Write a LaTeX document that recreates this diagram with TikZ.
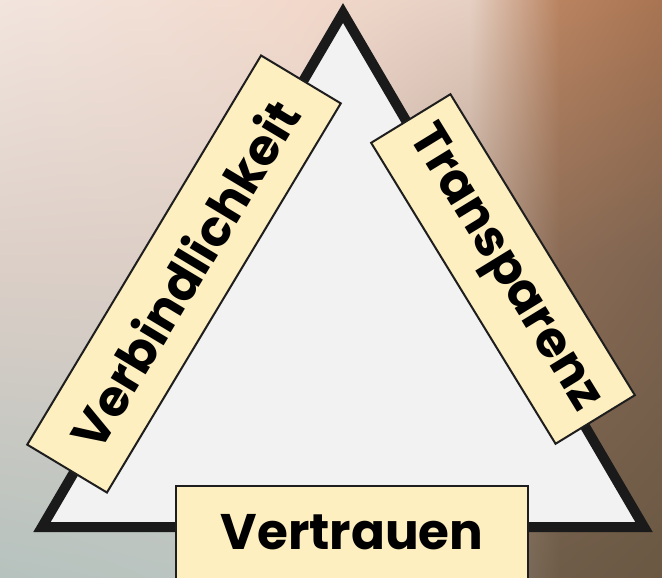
\documentclass[tikz,border=0pt]{standalone}
\usepackage{fontspec}
\setmainfont{Poppins}
\usetikzlibrary{shadings}
\definecolor{boxfill}{HTML}{FEEFC0}
\definecolor{boxline}{HTML}{1E1E1E}
\definecolor{trifill}{HTML}{F2F2F2}
\definecolor{triline}{HTML}{1A1A1A}
\definecolor{tA}{HTML}{F2E5DE}
\definecolor{tB}{HTML}{F2D8CB}
\definecolor{tC}{HTML}{E6D0C3}
\definecolor{tD}{HTML}{B98360}
\definecolor{tE}{HTML}{A87452}
\definecolor{mA}{HTML}{DCCFC7}
\definecolor{mB}{HTML}{DDCFC6}
\definecolor{mC}{HTML}{B9A190}
\definecolor{mD}{HTML}{8A6B55}
\definecolor{mE}{HTML}{7E6450}
\definecolor{bA}{HTML}{B6C2BE}
\definecolor{bB}{HTML}{BDC6C1}
\definecolor{bC}{HTML}{8C8070}
\definecolor{bD}{HTML}{6E5C48}
\definecolor{bE}{HTML}{6A5843}
\tikzset{
  label box/.style={draw=boxline, line width=2pt, fill=boxfill, rectangle,
    minimum height=93pt, inner sep=0pt, text=black,
    font=\fontsize{50}{60}\selectfont\bfseries},
}
\begin{document}
\begin{tikzpicture}[x=1pt,y=-1pt]
\useasboundingbox (0,0) rectangle (662,578);
% background, upper row
\fill[upper left=tA, upper right=tB, lower left=mA, lower right=mB] (0,0) rectangle (300,260.5);
\fill[upper left=tB, upper right=tC, lower left=mB, lower right=mC] (299.5,0) rectangle (470,260.5);
\fill[upper left=tC, upper right=tD, lower left=mC, lower right=mD] (469.5,0) rectangle (560,260.5);
\fill[upper left=tD, upper right=tE, lower left=mD, lower right=mE] (559.5,0) rectangle (662,260.5);
% background, lower row
\fill[upper left=mA, upper right=mB, lower left=bA, lower right=bB] (0,260) rectangle (300,578);
\fill[upper left=mB, upper right=mC, lower left=bB, lower right=bC] (299.5,260) rectangle (470,578);
\fill[upper left=mC, upper right=mD, lower left=bC, lower right=bD] (469.5,260) rectangle (560,578);
\fill[upper left=mD, upper right=mE, lower left=bD, lower right=bE] (559.5,260) rectangle (662,578);
% triangle
\coordinate (apex) at (343,13);
\coordinate (bl) at (42,527);
\coordinate (br) at (644,527);
\draw[line width=10pt, draw=triline, fill=trifill, line join=miter] (apex) -- (bl) -- (br) -- cycle;
% labels
\node[label box, minimum width=454pt, rotate=59] (verb) at (184,274) {Verbindlichkeit};
\node[label box, minimum width=353pt, rotate=-58.5] (trans) at (503,269) {Transparenz};
\node[label box, minimum width=352pt] (vert) at (352,532.5) {Vertrauen};
\end{tikzpicture}
\end{document}
